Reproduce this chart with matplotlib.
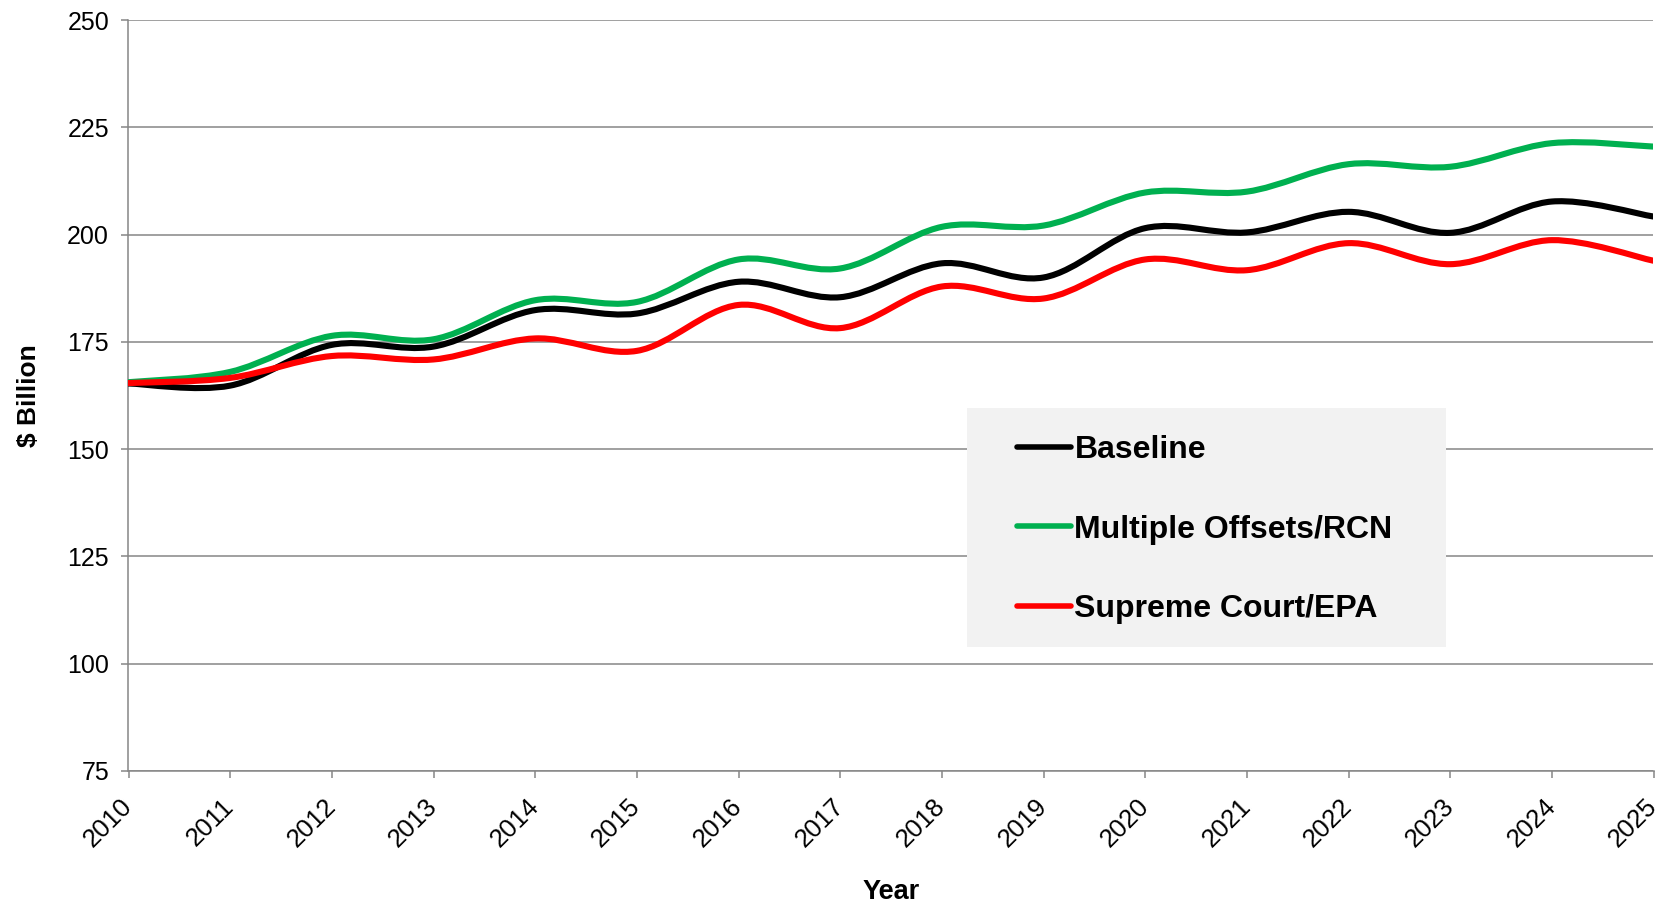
import matplotlib
matplotlib.use('Agg')  # no display
import matplotlib.pyplot as plt
from matplotlib.path import Path
from matplotlib.patches import PathPatch, Rectangle
from matplotlib.lines import Line2D

plt.rcParams['font.family'] = ['Liberation Sans', 'DejaVu Sans']

# data ($ billion)
years = list(range(2010, 2026))
baseline = [165.3, 164.8, 174.3, 173.9, 182.4, 181.6, 189.0, 185.4,
            193.3, 190.0, 201.5, 200.5, 205.3, 200.4, 207.7, 204.2]
offsets_rcn = [165.6, 168.0, 176.4, 175.6, 184.7, 184.3, 194.2, 192.1,
               201.8, 202.1, 209.8, 210.0, 216.4, 215.8, 221.3, 220.5]
supreme_epa = [165.4, 166.6, 171.7, 170.9, 175.8, 172.9, 183.6, 178.2,
               187.9, 185.1, 194.2, 191.7, 198.0, 193.1, 198.7, 193.9]

series_names = ['Baseline', 'Multiple Offsets/RCN', 'Supreme Court/EPA']
series_colors = ['#000000', '#00b050', '#ff0000']
yticks = [75, 100, 125, 150, 175, 200, 225, 250]

GRAY = '#868686'


def smooth_path(x, y):
    # excel style smoothed line: bezier segments through the points
    n = len(x)
    verts = [(x[0], y[0])]
    codes = [Path.MOVETO]
    for i in range(n - 1):
        a = i - 1 if i > 0 else i
        b = i + 2 if i + 2 < n else i + 1
        c1 = (x[i] + (x[i + 1] - x[a]) / 6, y[i] + (y[i + 1] - y[a]) / 6)
        c2 = (x[i + 1] - (x[b] - x[i]) / 6, y[i + 1] - (y[b] - y[i]) / 6)
        verts += [c1, c2, (x[i + 1], y[i + 1])]
        codes += [Path.CURVE4] * 3
    return Path(verts, codes)


fig = plt.figure(figsize=(16.65, 9.05), dpi=100)
ax = fig.add_axes([128.5 / 1665, 1 - 771 / 905, 1525 / 1665, 751 / 905])

handles = []
for vals, name, col in zip([baseline, offsets_rcn, supreme_epa], series_names, series_colors):
    patch = PathPatch(smooth_path(years, vals), facecolor='none', edgecolor=col,
                      lw=4.4, capstyle='round', joinstyle='round', zorder=3)
    ax.add_patch(patch)
    handles.append(Line2D([], [], color=col, lw=4.0, solid_capstyle='round', label=name))

ax.set_xlim(2010, 2025)
ax.set_ylim(75, 250)
ax.set_xticks(years)
ax.set_xticklabels([str(y) for y in years], rotation=45, ha='right', va='center',
                   rotation_mode='anchor', fontsize=18.5)
ax.set_yticks(yticks)
ax.set_yticklabels([str(v) for v in yticks], fontsize=18)
ax.tick_params(axis='both', color=GRAY, width=1.1, length=5)
ax.tick_params(axis='x', pad=18)
ax.tick_params(axis='y', pad=9)

ax.set_axisbelow(True)
ax.grid(axis='y', color=GRAY, lw=1.1)
for s in ['top', 'right']:
    ax.spines[s].set_visible(False)
for s in ['left', 'bottom']:
    ax.spines[s].set_color(GRAY)
    ax.spines[s].set_linewidth(1.1)

ax.set_ylabel('$ Billion', fontsize=19, fontweight='bold', va='center')
ax.yaxis.set_label_coords(-0.0655, 0.5)
ax.set_xlabel('Year', fontsize=19.5, fontweight='bold', va='center')
ax.xaxis.set_label_coords(0.5, -0.161)

# gray legend box
box = Rectangle((967 / 1665, 1 - 647 / 905), 479 / 1665, 239 / 905,
                transform=fig.transFigure, facecolor='#f2f2f2', edgecolor='none', zorder=4)
ax.add_patch(box)
leg = ax.legend(handles=handles, loc='upper left', bbox_to_anchor=(1017 / 1665, 1 - 435 / 905),
                bbox_transform=fig.transFigure, frameon=False, borderpad=0, borderaxespad=0,
                handlelength=1.7, handletextpad=0.1, labelspacing=1.55,
                prop={'weight': 'bold', 'size': 23})
leg.set_zorder(5)

plt.savefig('out.png', dpi=100)
